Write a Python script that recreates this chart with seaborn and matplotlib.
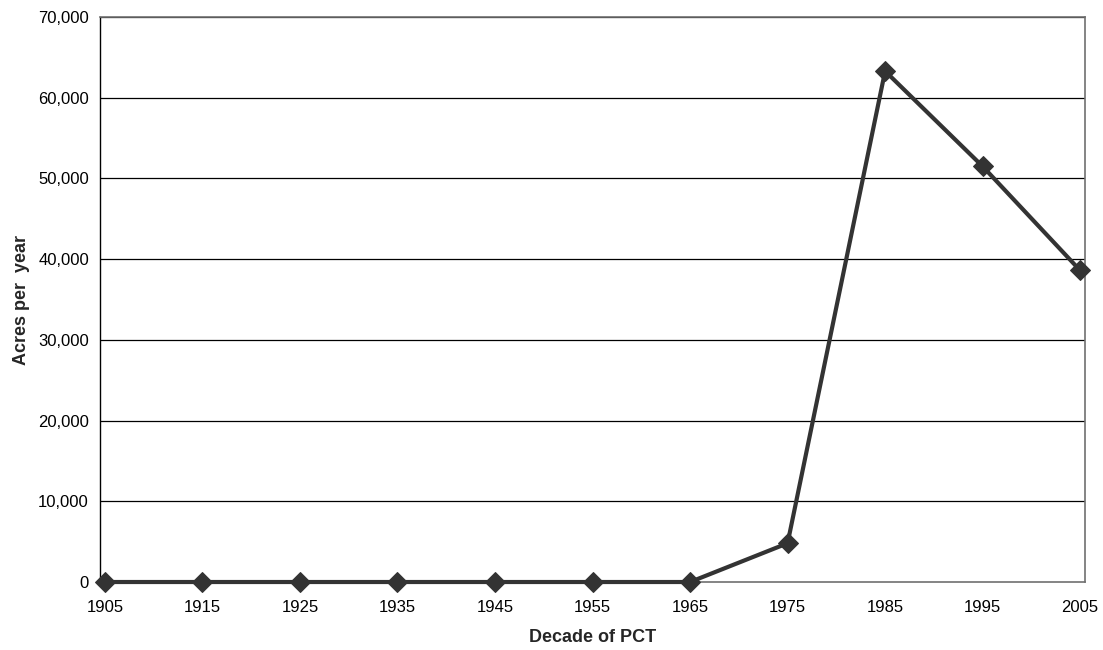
import matplotlib
matplotlib.use("Agg")
import matplotlib.pyplot as plt
import seaborn as sns
import pandas as pd
from matplotlib.ticker import FuncFormatter, FixedLocator

decades = [1905, 1915, 1925, 1935, 1945, 1955, 1965, 1975, 1985, 1995, 2005]
acres = [0, 0, 0, 0, 0, 0, 0, 4800, 63300, 51500, 38600]

sns.set_theme(style="white")
plt.rcParams['font.family'] = ['Liberation Sans', 'DejaVu Sans']

df = pd.DataFrame({"decade": decades, "acres": acres})

fig = plt.figure(figsize=(11.03, 6.5), dpi=100)
ax = fig.add_axes([0.0907, 0.1046, 0.8930, 0.8692])

for v in range(10000, 70001, 10000):
    ax.axhline(v, color="black", lw=0.9, zorder=0)

sns.lineplot(data=df, x="decade", y="acres", ax=ax, color="#333333", lw=3.0,
             marker="D", markersize=10, markeredgecolor="#333333", markerfacecolor="#333333",
             clip_on=False, zorder=3)

ax.set_xlim(1904.5, 2005.5)
ax.set_ylim(0, 70000)
ax.xaxis.set_major_locator(FixedLocator(decades))
ax.set_yticks(range(0, 70001, 10000))
ax.yaxis.set_major_formatter(FuncFormatter(lambda v, p: f"{int(v):,}"))
ax.tick_params(axis="both", labelsize=12, colors="black", length=4, width=0.8, direction="out")
ax.tick_params(axis="x", pad=9)
ax.tick_params(axis="y", pad=4)

ax.spines["left"].set_color("black")
ax.spines["left"].set_linewidth(1.0)
for s in ["bottom", "right", "top"]:
    ax.spines[s].set_color("#707070")
    ax.spines[s].set_linewidth(1.2)

ax.set_xlabel("Decade of PCT", fontsize=13, fontweight="bold", labelpad=10)
ax.set_ylabel("Acres per  year", fontsize=13, fontweight="bold", labelpad=6)

fig.savefig("out.png", dpi=100, facecolor="white")
